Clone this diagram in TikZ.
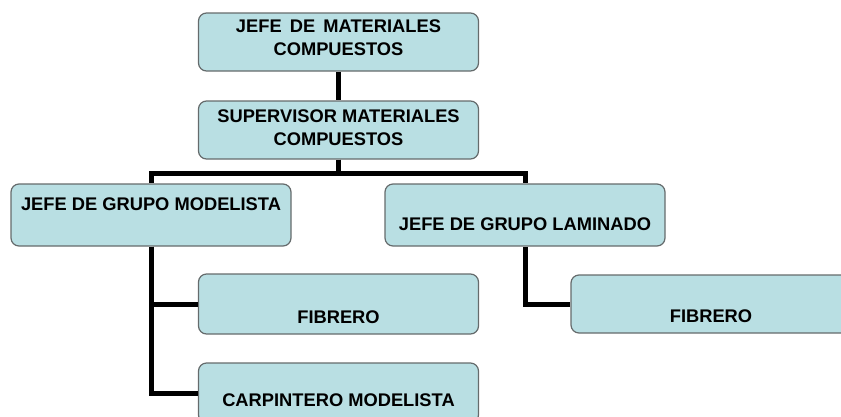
\documentclass[tikz,border=0pt]{standalone}
\usepackage{fontspec}
\setmainfont{Liberation Sans}
\definecolor{boxfill}{HTML}{B9DFE3}
\definecolor{boxline}{HTML}{656B6C}
\begin{document}
\begin{tikzpicture}[x=1pt, y=-1pt,
        box/.style={rectangle, rounded corners=8pt, draw=boxline, fill=boxfill, line width=1.2pt, minimum width=280pt, minimum height=58pt, inner sep=0pt},
        lbl/.style={font=\bfseries\fontsize{18.3}{22.5}\selectfont, align=center, inner sep=0pt},
        link/.style={line width=5pt},]
        \useasboundingbox (0,0) rectangle (841,416);

        % Boxes
        \node[box] (jmc)  at (338.5,42)  {};
        \node[box] (smc)  at (338.5,130) {};
        \node[box, minimum height=62pt] (jgm)  at (151,215)   {};
        \node[box, minimum height=62pt] (jgl)  at (525,215)   {};
        \node[box, minimum height=60pt] (fib1) at (338.5,304) {};
        \node[box, minimum height=60pt] (cm)   at (338.5,393) {};
        \node[box] (fib2) at (711,304)   {};

        % Texts
        \node[lbl] (jmc-t)  at (338.5,37.8)  {JEFE\, DE\, MATERIALES\\COMPUESTOS};
        \node[lbl] (smc-t)  at (338.5,127.5) {SUPERVISOR MATERIALES\\COMPUESTOS};
        \node[lbl] (jgm-t)  at (151,204)     {JEFE DE GRUPO MODELISTA};
        \node[lbl] (jgl-t)  at (525,224)     {JEFE DE GRUPO LAMINADO};
        \node[lbl] (fib1-t) at (338.5,317)   {FIBRERO};
        \node[lbl] (cm-t)   at (338.5,400)   {CARPINTERO MODELISTA};
        \node[lbl] (fib2-t) at (711,316)     {FIBRERO};

        %Links
        \draw[link] (jmc.south) -- (smc.north);
        \draw[link] (smc.south) -- ++(0,14) -| (jgm.north);
        \draw[link] (smc.south) -- ++(0,14) -| (jgl.north);
        \draw[link] (jgm.south) |- (fib1.west);
        \draw[link] (jgm.south) |- (cm.west);
        \draw[link] (jgl.south) |- (fib2.west);
    \end{tikzpicture}
\end{document}
